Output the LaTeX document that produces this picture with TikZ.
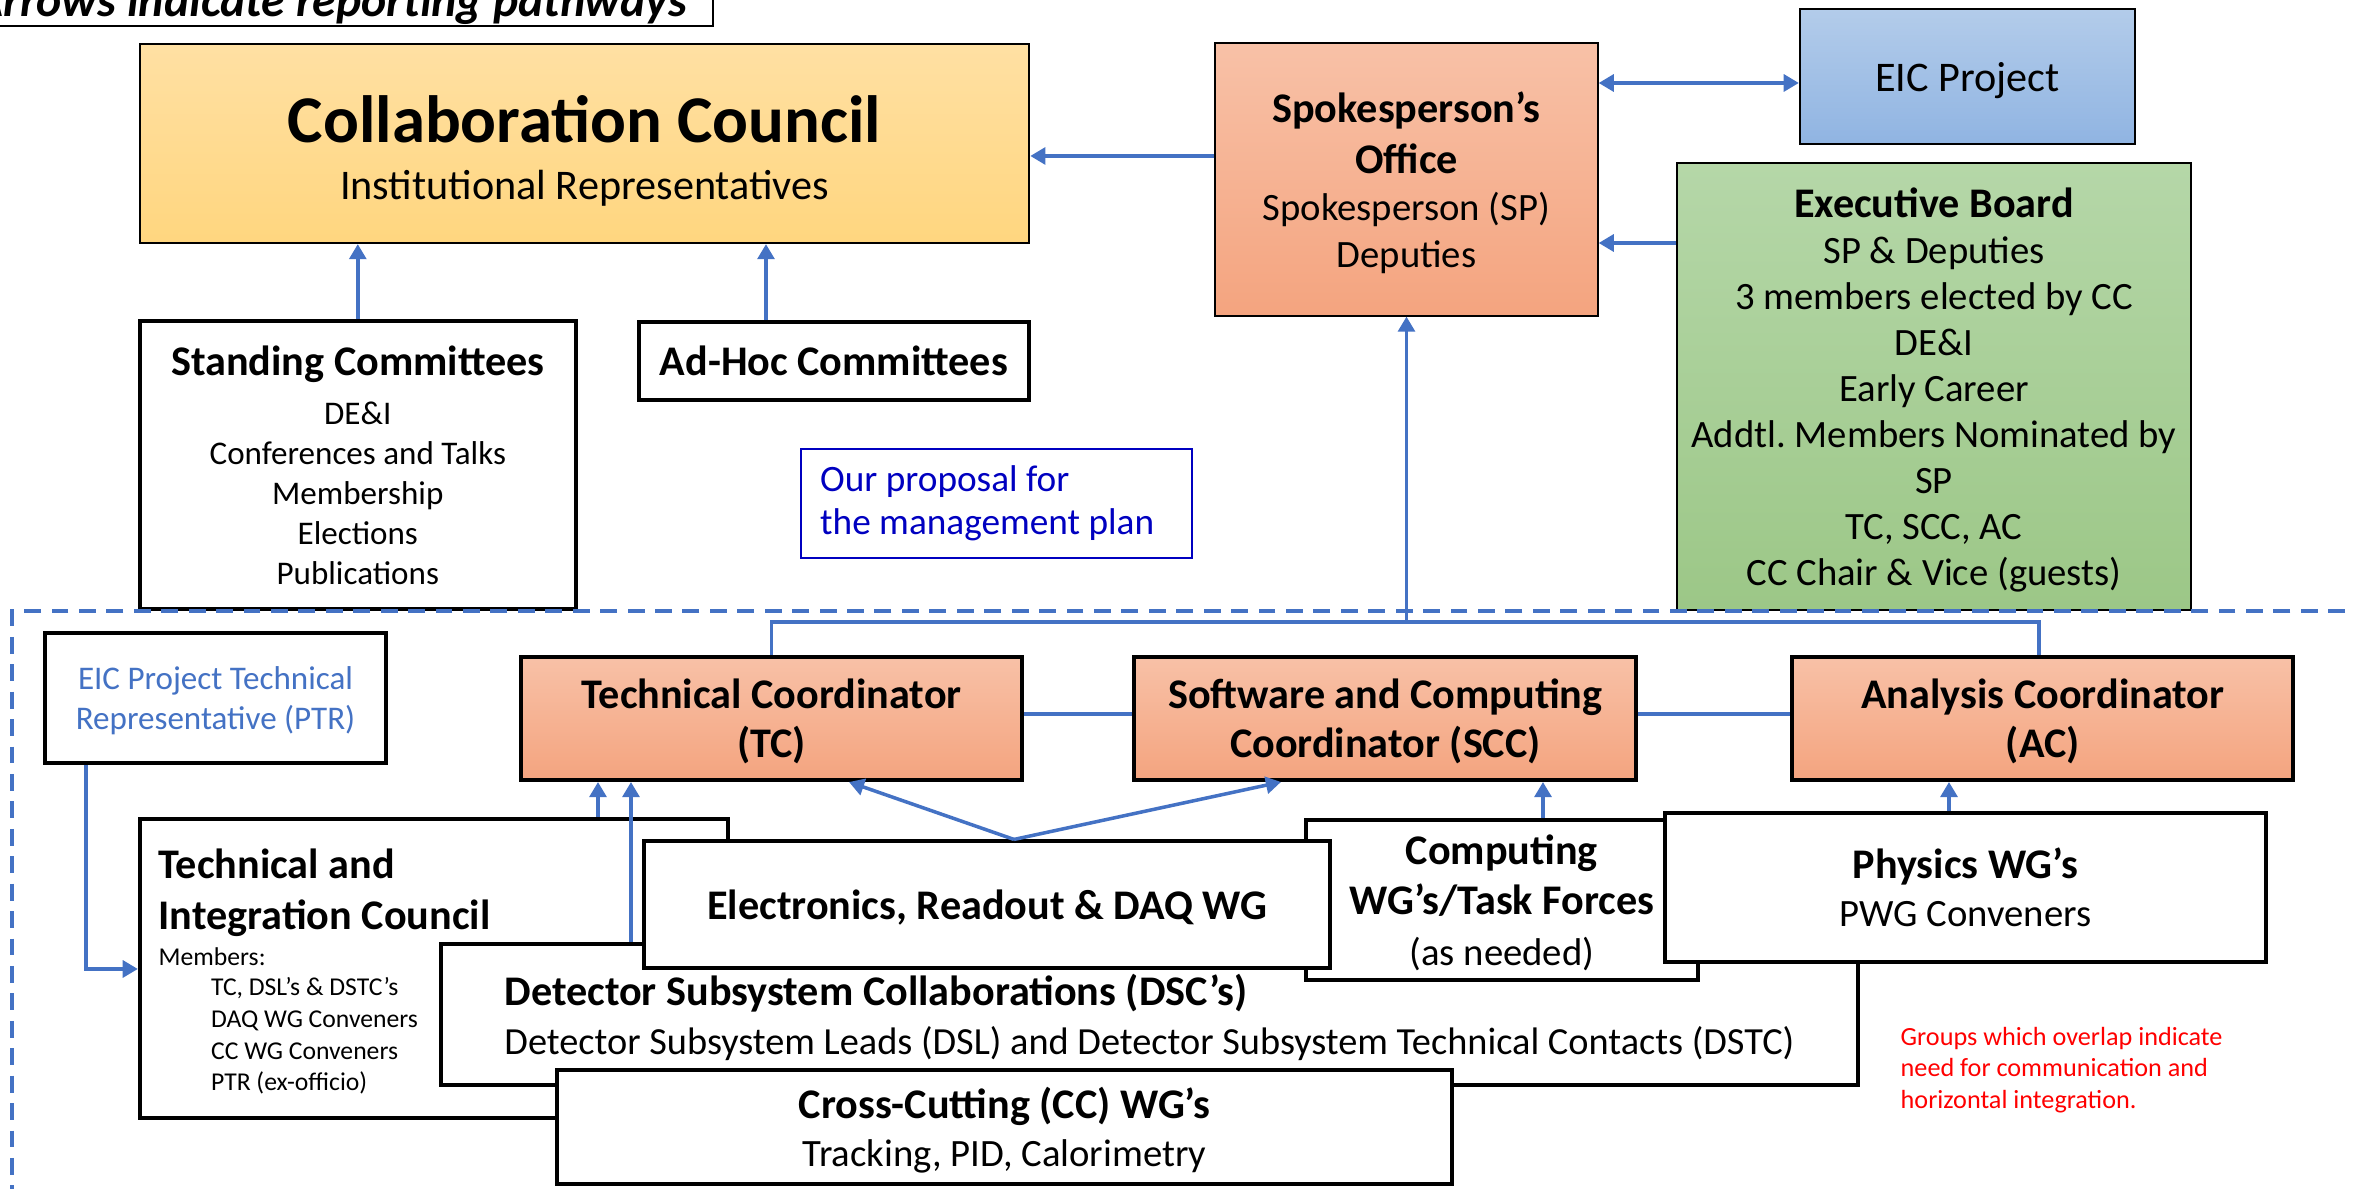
\documentclass[tikz,border=0pt]{standalone}
\usepackage{fontspec}
\setmainfont{Carlito}
\usetikzlibrary{arrows.meta}

\definecolor{linkblue}{HTML}{4472C4}
\definecolor{propblue}{HTML}{0000C0}
\definecolor{salmontop}{HTML}{F8C1A7}
\definecolor{salmonbot}{HTML}{F4A47F}
\definecolor{goldtop}{HTML}{FFE0A3}
\definecolor{goldbot}{HTML}{FFD67F}
\definecolor{skytop}{HTML}{B3CCEA}
\definecolor{skybot}{HTML}{90B4E2}
\definecolor{leaftop}{HTML}{B5D7A8}
\definecolor{leafbot}{HTML}{9CC787}

\begin{document}
\frenchspacing
\begin{tikzpicture}[x=0.01cm, y=-0.01cm,
  thinbox/.style={draw, line width=0.6pt, inner sep=0pt, align=center, text depth=0pt},
  thickbox/.style={draw, line width=1.15pt, fill=white, inner sep=0pt, align=center, text depth=0pt},
  coord/.style={thickbox, top color=salmontop, bottom color=salmonbot},
  head/.style={font=\fontsize{12}{14.1}\selectfont\bfseries},
  link/.style={draw=linkblue, line width=1pt},
  arr/.style={link, -{Triangle[length=4.3pt, width=4.8pt]}}]

  \useasboundingbox (0,0) rectangle (2356,1189);
  \clip (0,0) rectangle (2356,1189);

  \node[draw, line width=0.5pt, anchor=south east, inner xsep=0.26cm, inner ysep=0.02cm,
    font=\fontsize{13.6}{16}\selectfont\bfseries\itshape] (banner) at (714,27) {Arrows indicate reporting pathways};

  % upper part
  \node[thinbox, top color=goldtop, bottom color=goldbot, minimum width=8.89cm, minimum height=1.99cm] (cc) at (584.5,143.5) {};
  \node[align=center, font=\fontsize{12}{16.1}\selectfont] (cctext) at (584.5,151)
    {{\fontsize{19}{23}\selectfont\bfseries Collaboration Council}\\Institutional Representatives};

  \node[thinbox, top color=salmontop, bottom color=salmonbot, minimum width=3.82cm, minimum height=2.72cm,
    font=\fontsize{11}{13.3}\selectfont] (sp) at (1406.5,179.5)
    {{\fontsize{12}{14}\selectfont\bfseries Spokesperson's}\\[1.4pt]{\fontsize{12}{14}\selectfont\bfseries Office}\\Spokesperson (SP)\\Deputies};

  \node[thinbox, top color=skytop, bottom color=skybot, minimum width=3.35cm, minimum height=1.35cm,
    font=\fontsize{12}{14}\selectfont] (eic) at (1967.5,76.5) {EIC Project};

  \node[thinbox, top color=leaftop, bottom color=leafbot, minimum width=5.14cm, minimum height=4.465cm,
    font=\fontsize{11}{13.1}\selectfont] (eb) at (1934,386.5)
    {{\fontsize{12}{14}\selectfont\bfseries Executive Board}\\SP \& Deputies\\3 members elected by CC\\DE\&I\\Early Career\\Addtl. Members Nominated by\\SP\\TC, SCC, AC\\CC Chair \& Vice (guests)};

  \node[thickbox, minimum width=4.355cm, minimum height=2.87cm, font=\fontsize{9.4}{11.4}\selectfont] (sc) at (357.8,465)
    {{\fontsize{12}{14}\selectfont\bfseries Standing Committees}\\[2.5pt]DE\&I\\Conferences and Talks\\Membership\\Elections\\Publications};
  \node[thickbox, head, minimum width=3.9cm, minimum height=0.78cm] (ah) at (834,360.6) {Ad-Hoc Committees};

  \node[draw=propblue, line width=0.6pt, text=propblue, align=flush left, text width=3.52cm, inner sep=0pt,
    minimum width=3.906cm, minimum height=1.085cm, font=\fontsize{10.6}{12.4}\selectfont] (prop) at (996.3,503.3)
    {Our proposal for\\the management plan};

  \draw[linkblue, line width=1.4pt, dash pattern=on 4.8pt off 3pt] (2400,611) -- (12,611) -- (12,1200);

  % lower part
  \node[thickbox, text=linkblue, minimum width=3.41cm, minimum height=1.307cm, font=\fontsize{9.4}{11.5}\selectfont] (ptr) at (215.5,698)
    {EIC Project Technical\\Representative (PTR)};

  \node[coord, head, minimum width=5.004cm, minimum height=1.233cm] (tc) at (771.6,718.3) {Technical Coordinator\\(TC)};
  \node[coord, head, minimum width=5.018cm, minimum height=1.233cm] (scc) at (1385.4,718.3) {Software and Computing\\Coordinator (SCC)};
  \node[coord, head, minimum width=5.004cm, minimum height=1.233cm] (ac) at (2042.8,718.3) {Analysis Coordinator\\(AC)};

  \node[thickbox, minimum width=5.873cm, minimum height=2.99cm] (tic) at (433.7,968.5) {};
  \node[align=left, anchor=west, inner sep=0pt, font=\fontsize{12}{14.5}\selectfont\bfseries] (tictitle) at (158,893)
    {Technical and\\Integration Council};
  \node[anchor=west, inner sep=0pt, font=\fontsize{7.3}{9}\selectfont] (ticmem) at (158,957) {Members:};
  \node[align=left, anchor=west, inner sep=0pt, font=\fontsize{7.3}{9}\selectfont] (ticlist) at (210.4,1036)
    {TC, DSL's \& DSTC's\\DAQ WG Conveners\\CC WG Conveners\\PTR (ex-officio)};

  \node[thickbox, align=left, minimum width=14.154cm, minimum height=1.413cm, font=\fontsize{10.9}{13.7}\selectfont] (dsc) at (1149.5,1014.3)
    {{\fontsize{12}{14}\selectfont\bfseries Detector Subsystem Collaborations (DSC's)}\\Detector Subsystem Leads (DSL) and Detector Subsystem Technical Contacts (DSTC)};

  \node[thickbox, minimum width=3.922cm, minimum height=1.593cm, font=\fontsize{12}{14.3}\selectfont] (cwg) at (1501.9,900)
    {{\bfseries Computing}\\{\bfseries WG's/Task Forces}\\{\fontsize{11}{13}\selectfont (as needed)}};

  \node[thickbox, head, minimum width=6.852cm, minimum height=1.262cm] (erd) at (987.2,904.6) {Electronics, Readout \& DAQ WG};

  \node[thickbox, minimum width=6.01cm, minimum height=1.487cm, font=\fontsize{11}{13.7}\selectfont] (phys) at (1965.5,887.4)
    {{\fontsize{12}{14}\selectfont\bfseries Physics WG's}\\PWG Conveners};

  \node[thickbox, minimum width=8.94cm, minimum height=1.141cm, font=\fontsize{11}{13.7}\selectfont] (ccwg) at (1004.5,1127)
    {{\fontsize{12}{14}\selectfont\bfseries Cross-Cutting (CC) WG's}\\Tracking, PID, Calorimetry};

  \node[align=left, anchor=west, inner sep=0pt, text=red, font=\fontsize{7.45}{9}\selectfont] (note) at (1900,1070)
    {Groups which overlap indicate\\need for communication and\\horizontal integration.};

  % reporting arrows
  \draw[arr] (sp.west |- 0,156) -- (cc.east |- 0,156);
  \draw[arr] (sc.north) -- (cc.south -| sc.north);
  \draw[arr] (ah.north -| 766,0) -- (cc.south -| 766,0);
  \draw[link, {Triangle[length=4.3pt, width=4.8pt]}-{Triangle[length=4.3pt, width=4.8pt]}] (sp.east |- 0,83) -- (eic.west |- 0,83);
  \draw[arr] (eb.west |- 0,243) -- (sp.east |- 0,243);

  \draw[arr] (tc.north) |- (sp.south |- 0,622) -- (sp.south);
  \draw[link] (ac.north -| 2039,0) |- (sp.south |- 0,622);
  \draw[link] (tc.east |- 0,714) -- (scc.west |- 0,714);
  \draw[link] (scc.east |- 0,714) -- (ac.west |- 0,714);

  \draw[arr] (ptr.south -| 86,0) |- (tic.west |- 0,969);
  \draw[arr] (tic.north -| 598,0) -- (tc.south -| 598,0);
  \draw[arr] (dsc.north -| 631,0) -- (tc.south -| 631,0);
  \draw[arr] (erd.north -| 1014,0) -- (tc.south -| 849,0);
  \draw[arr] (erd.north -| 1014,0) -- (scc.south -| 1281,0);
  \draw[arr] (cwg.north -| 1543,0) -- (scc.south -| 1543,0);
  \draw[arr] (phys.north -| 1949,0) -- (ac.south -| 1949,0);
\end{tikzpicture}
\end{document}
